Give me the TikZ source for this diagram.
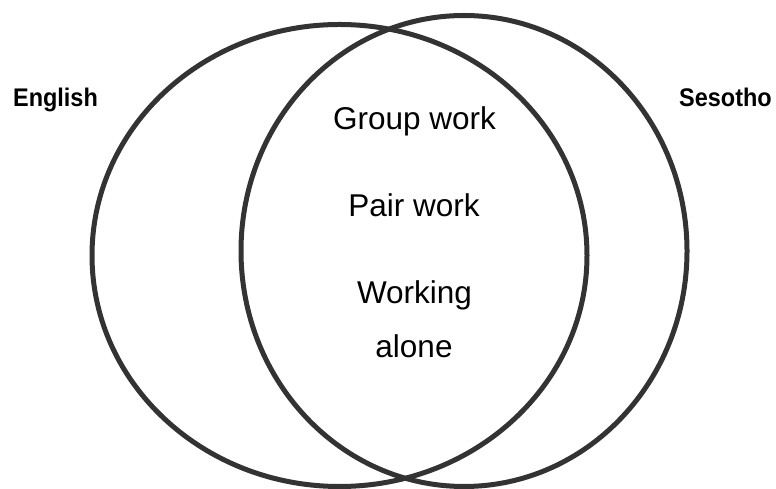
\documentclass[tikz,border=0pt]{standalone}
\usepackage{fontspec}
\setmainfont{Liberation Sans}
\usetikzlibrary{shapes.geometric}
\definecolor{ringgray}{HTML}{333333}
\newcommand{\narrowlbl}[1]{\scalebox{0.92}[1]{#1}}
\begin{document}
\begin{tikzpicture}[x=1pt,y=1pt,
  ring/.style={ellipse, draw=ringgray, line width=5pt, inner sep=0pt},
  side/.style={anchor=base, inner sep=0pt, font=\fontsize{25.5}{30}\selectfont\bfseries},
  item/.style={anchor=base, inner sep=0pt, font=\fontsize{31.5}{38}\selectfont}]
\useasboundingbox (0,0) rectangle (776,489);
\node[ring, minimum width=495pt, minimum height=462pt] (eng) at (339.5,233.5) {};
\node[ring, minimum width=446pt, minimum height=471pt] (ses) at (464,238) {};
\node[side] (englabel) at (55.5,382) {\narrowlbl{English}};
\node[side] (seslabel) at (725.5,382) {\narrowlbl{Sesotho}};
\node[item] (group) at (414.5,359) {Group work};
\node[item] (pair) at (414,272) {Pair work};
\node[item] (working) at (414.5,185) {Working};
\node[item] (alone) at (414,131) {alone};
\end{tikzpicture}
\end{document}
